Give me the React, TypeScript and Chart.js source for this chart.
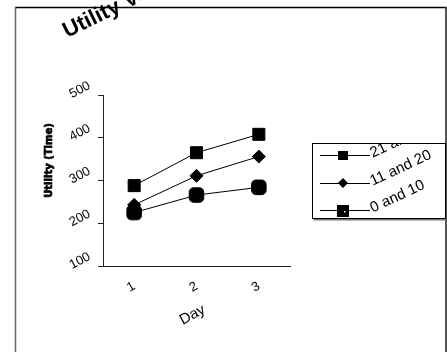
import React, { useEffect, useRef } from 'react';
import { Chart, registerables } from 'chart.js';

Chart.register(...registerables);

const days = ['1', '2', '3'];
const seriesNames = ['21 and above', '11 and 20', '0 and 10'];
const age21Plus = [288, 365, 408];
const age11to20 = [243, 311, 356];
const age0to10 = [225, 266, 284];
const yTicks = [100, 200, 300, 400, 500];
const chartTitle = 'Utility Versus Day';
const xTitle = 'Day';
const yTitle = 'Utility (Time)';

const FONT = '"Liberation Sans", Arial, sans-serif';

const decoPlugin = {
  id: 'deco',
  afterDraw(chart: any) {
    const ctx: CanvasRenderingContext2D = chart.ctx;
    const xs = chart.scales.x;
    const ys = chart.scales.y;
    ctx.save();

    const rotText = (
      text: string,
      x: number,
      y: number,
      deg: number,
      font: string,
      align: CanvasTextAlign = 'center',
      baseline: CanvasTextBaseline = 'middle',
      heavy = 0
    ) => {
      ctx.save();
      ctx.translate(x, y);
      ctx.rotate((deg * Math.PI) / 180);
      ctx.font = font;
      ctx.textAlign = align;
      ctx.textBaseline = baseline;
      ctx.fillStyle = '#000';
      ctx.fillText(text, 0, 0);
      if (heavy > 0) {
        ctx.strokeStyle = '#000';
        ctx.lineWidth = heavy;
        ctx.lineJoin = 'round';
        ctx.strokeText(text, 0, 0);
      }
      ctx.restore();
    };

    // chart title (rotated, cut off by its box)
    ctx.save();
    ctx.beginPath();
    ctx.rect(0, 0, 141, 60);
    ctx.clip();
    rotText(chartTitle, 67, 38, -26, `bold 22px ${FONT}`, 'left', 'alphabetic');
    ctx.restore();

    // outer frame
    ctx.strokeStyle = '#000';
    ctx.lineWidth = 1.5;
    ctx.beginPath();
    ctx.moveTo(15, 7.5);
    ctx.lineTo(447, 7.5);
    ctx.stroke();
    ctx.strokeStyle = '#666';
    ctx.lineWidth = 1.5;
    ctx.beginPath();
    ctx.moveTo(15.5, 7);
    ctx.lineTo(15.5, 352);
    ctx.stroke();
    ctx.strokeStyle = '#555';
    ctx.lineWidth = 2;
    ctx.beginPath();
    ctx.moveTo(446, 7);
    ctx.lineTo(446, 352);
    ctx.stroke();

    // y tick labels
    yTicks.forEach((v) => {
      const py = ys.getPixelForValue(v);
      rotText(String(v), xs.left - 23, py - 5, -28, `13px ${FONT}`);
    });

    // x tick labels
    days.forEach((d, i) => {
      const px = xs.getPixelForValue(i);
      rotText(d, px - 3, ys.bottom + 21, -30, `13px ${FONT}`);
    });

    // axis titles
    rotText(xTitle, (xs.left + xs.right) / 2 - 4, ys.bottom + 49, -28, `15px ${FONT}`);
    rotText(yTitle, 49, (ys.top + ys.bottom) / 2 - 20, -90, 'bold 10px "DejaVu Sans", sans-serif', 'center', 'middle', 0.7);

    // legend box
    const bx = 312.5, by = 143.5, bw = 133, bh = 75;
    ctx.fillStyle = '#fff';
    ctx.fillRect(bx, by, bw, bh);
    ctx.fillStyle = '#777';
    ctx.fillRect(bx + 1, by + bh, bw, 2);
    ctx.strokeStyle = '#000';
    ctx.lineWidth = 1;
    ctx.strokeRect(bx, by, bw, bh);

    const rows = [155, 183, 210];
    seriesNames.forEach((name, i) => {
      const ry = rows[i];
      ctx.strokeStyle = '#000';
      ctx.lineWidth = 1;
      ctx.beginPath();
      ctx.moveTo(320, ry + 0.5);
      ctx.lineTo(370, ry + 0.5);
      ctx.stroke();
      ctx.fillStyle = '#000';
      const mx = 343;
      if (i === 0) {
        ctx.fillRect(mx - 5, ry - 4, 10, 9);
      } else if (i === 1) {
        ctx.beginPath();
        ctx.moveTo(mx, ry - 5);
        ctx.lineTo(mx + 5, ry);
        ctx.lineTo(mx, ry + 5);
        ctx.lineTo(mx - 5, ry);
        ctx.closePath();
        ctx.fill();
      } else {
        ctx.fillRect(mx - 6, ry - 5, 12, 12);
        ctx.fillStyle = '#fff';
        ctx.fillRect(mx + 1, ry + 1, 1.5, 1.5);
      }
      ctx.save();
      ctx.beginPath();
      ctx.rect(bx + 0.5, by + 0.5, bw - 1, bh - 1);
      ctx.clip();
      rotText(name, 371, ry - 1, -25, `15px ${FONT}`, 'left', 'middle');
      ctx.restore();
    });

    ctx.restore();
  },
};

export default function App() {
  const canvasRef = useRef<HTMLCanvasElement | null>(null);

  useEffect(() => {
    const canvas = canvasRef.current;
    if (!canvas) return;
    const common = {
      borderColor: '#000',
      backgroundColor: '#000',
      pointBackgroundColor: '#000',
      pointBorderColor: '#000',
      borderWidth: 1,
      pointBorderWidth: 1,
      fill: false,
      tension: 0,
    };
    const chart = new Chart(canvas, {
      type: 'line',
      data: {
        labels: days,
        datasets: [
          { ...common, label: seriesNames[0], data: age21Plus, pointStyle: 'rect', pointRadius: 8.5 },
          { ...common, label: seriesNames[1], data: age11to20, pointStyle: 'rectRot', pointRadius: 6.5 },
          { ...common, label: seriesNames[2], data: age0to10, pointStyle: 'rectRounded', pointRadius: 8.5 },
        ],
      },
      options: {
        responsive: false,
        animation: false,
        layout: { padding: { left: 98, right: 157, top: 95, bottom: 86 } },
        scales: {
          x: {
            type: 'category',
            offset: true,
            grid: { display: true, drawOnChartArea: false, drawTicks: false },
            border: { display: true, color: '#222', width: 1 },
            ticks: { display: false },
          },
          y: {
            min: 100,
            max: 500,
            ticks: { display: false, stepSize: 100 },
            grid: { display: true, drawOnChartArea: false, drawTicks: true, tickLength: 5, color: '#222' },
            border: { display: true, color: '#222', width: 1 },
          },
        },
        plugins: {
          legend: { display: false },
          title: { display: false },
          tooltip: { enabled: false },
        },
      } as any,
      plugins: [decoPlugin],
    });
    return () => chart.destroy();
  }, []);

  return (
    <div style={{ position: 'absolute', left: 0, top: 0, width: 447, height: 352, background: '#fff' }}>
      <canvas ref={canvasRef} width={447} height={352} style={{ display: 'block' }} />
    </div>
  );
}
